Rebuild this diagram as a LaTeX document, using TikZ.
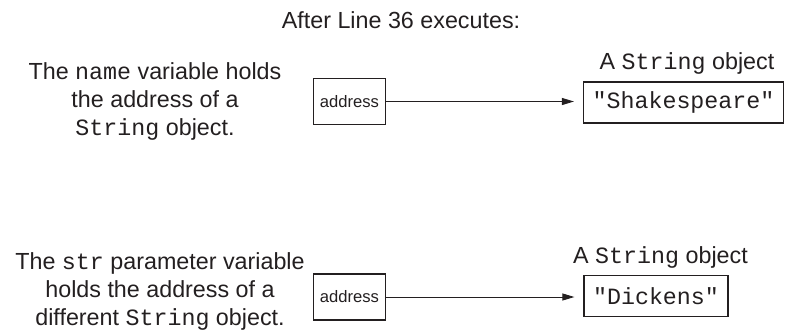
\documentclass[tikz,border=0pt]{standalone}
\usepackage{fontspec}
\setmainfont{Liberation Sans}
\setmonofont{Liberation Mono}
\usepackage{xcolor}
\usepackage{tikz}
\usetikzlibrary{arrows.meta, positioning}

\definecolor{ink}{RGB}{35,31,32}
\tikzset{
	bigtext/.style={font=\fontsize{23.3}{28}\selectfont, text=ink, inner sep=0pt},
	addrbox/.style={draw=ink, line width=1.4pt, minimum width=72pt, minimum height=46pt, inner sep=0pt, font=\fontsize{16.6}{20}\selectfont, text=ink},
	objbox/.style={draw=ink, line width=1.4pt, minimum height=41pt, inner xsep=9pt, inner ysep=0pt, font=\fontsize{23.3}{28}\selectfont\ttfamily, text=ink},
	refline/.style={draw=ink, line width=0.9pt, -{Triangle[length=12pt,width=7pt]}, shorten >=9pt}
}

\begin{document}
\begin{tikzpicture}[x=1pt, y=1pt]
		\useasboundingbox (0,0) rectangle (786,-330);
		% Paths, nodes and wires:
		\node[bigtext, anchor=base] (title) at (401,-28){After Line 36 executes:};
		\node[bigtext, align=center] (nametext) at (155,-101.5){The \texttt{name} variable holds\\the address of a\\\texttt{String} object.};
		\node[addrbox] (nameaddr) at (349.5,-101.5){address};
		\node[objbox] (shakes) at (683.5,-102.5){"Shakespeare"};
		\node[bigtext, anchor=base] (shakeslabel) at (687,-69){A \texttt{String} object};
		\draw[refline] (nameaddr.east) -- (nameaddr.east -| shakes.west);
		\node[bigtext, align=center] (strtext) at (160,-291.5){The \texttt{str} parameter variable\\holds the address of a\\different \texttt{String} object.};
		\node[addrbox] (straddr) at (349.5,-297){address};
		\node[objbox] (dickens) at (656,-296){"Dickens"};
		\node[bigtext, anchor=base] (dickenslabel) at (660.5,-263){A \texttt{String} object};
		\draw[refline] (straddr.east) -- (straddr.east -| dickens.west);
	\end{tikzpicture}
\end{document}
